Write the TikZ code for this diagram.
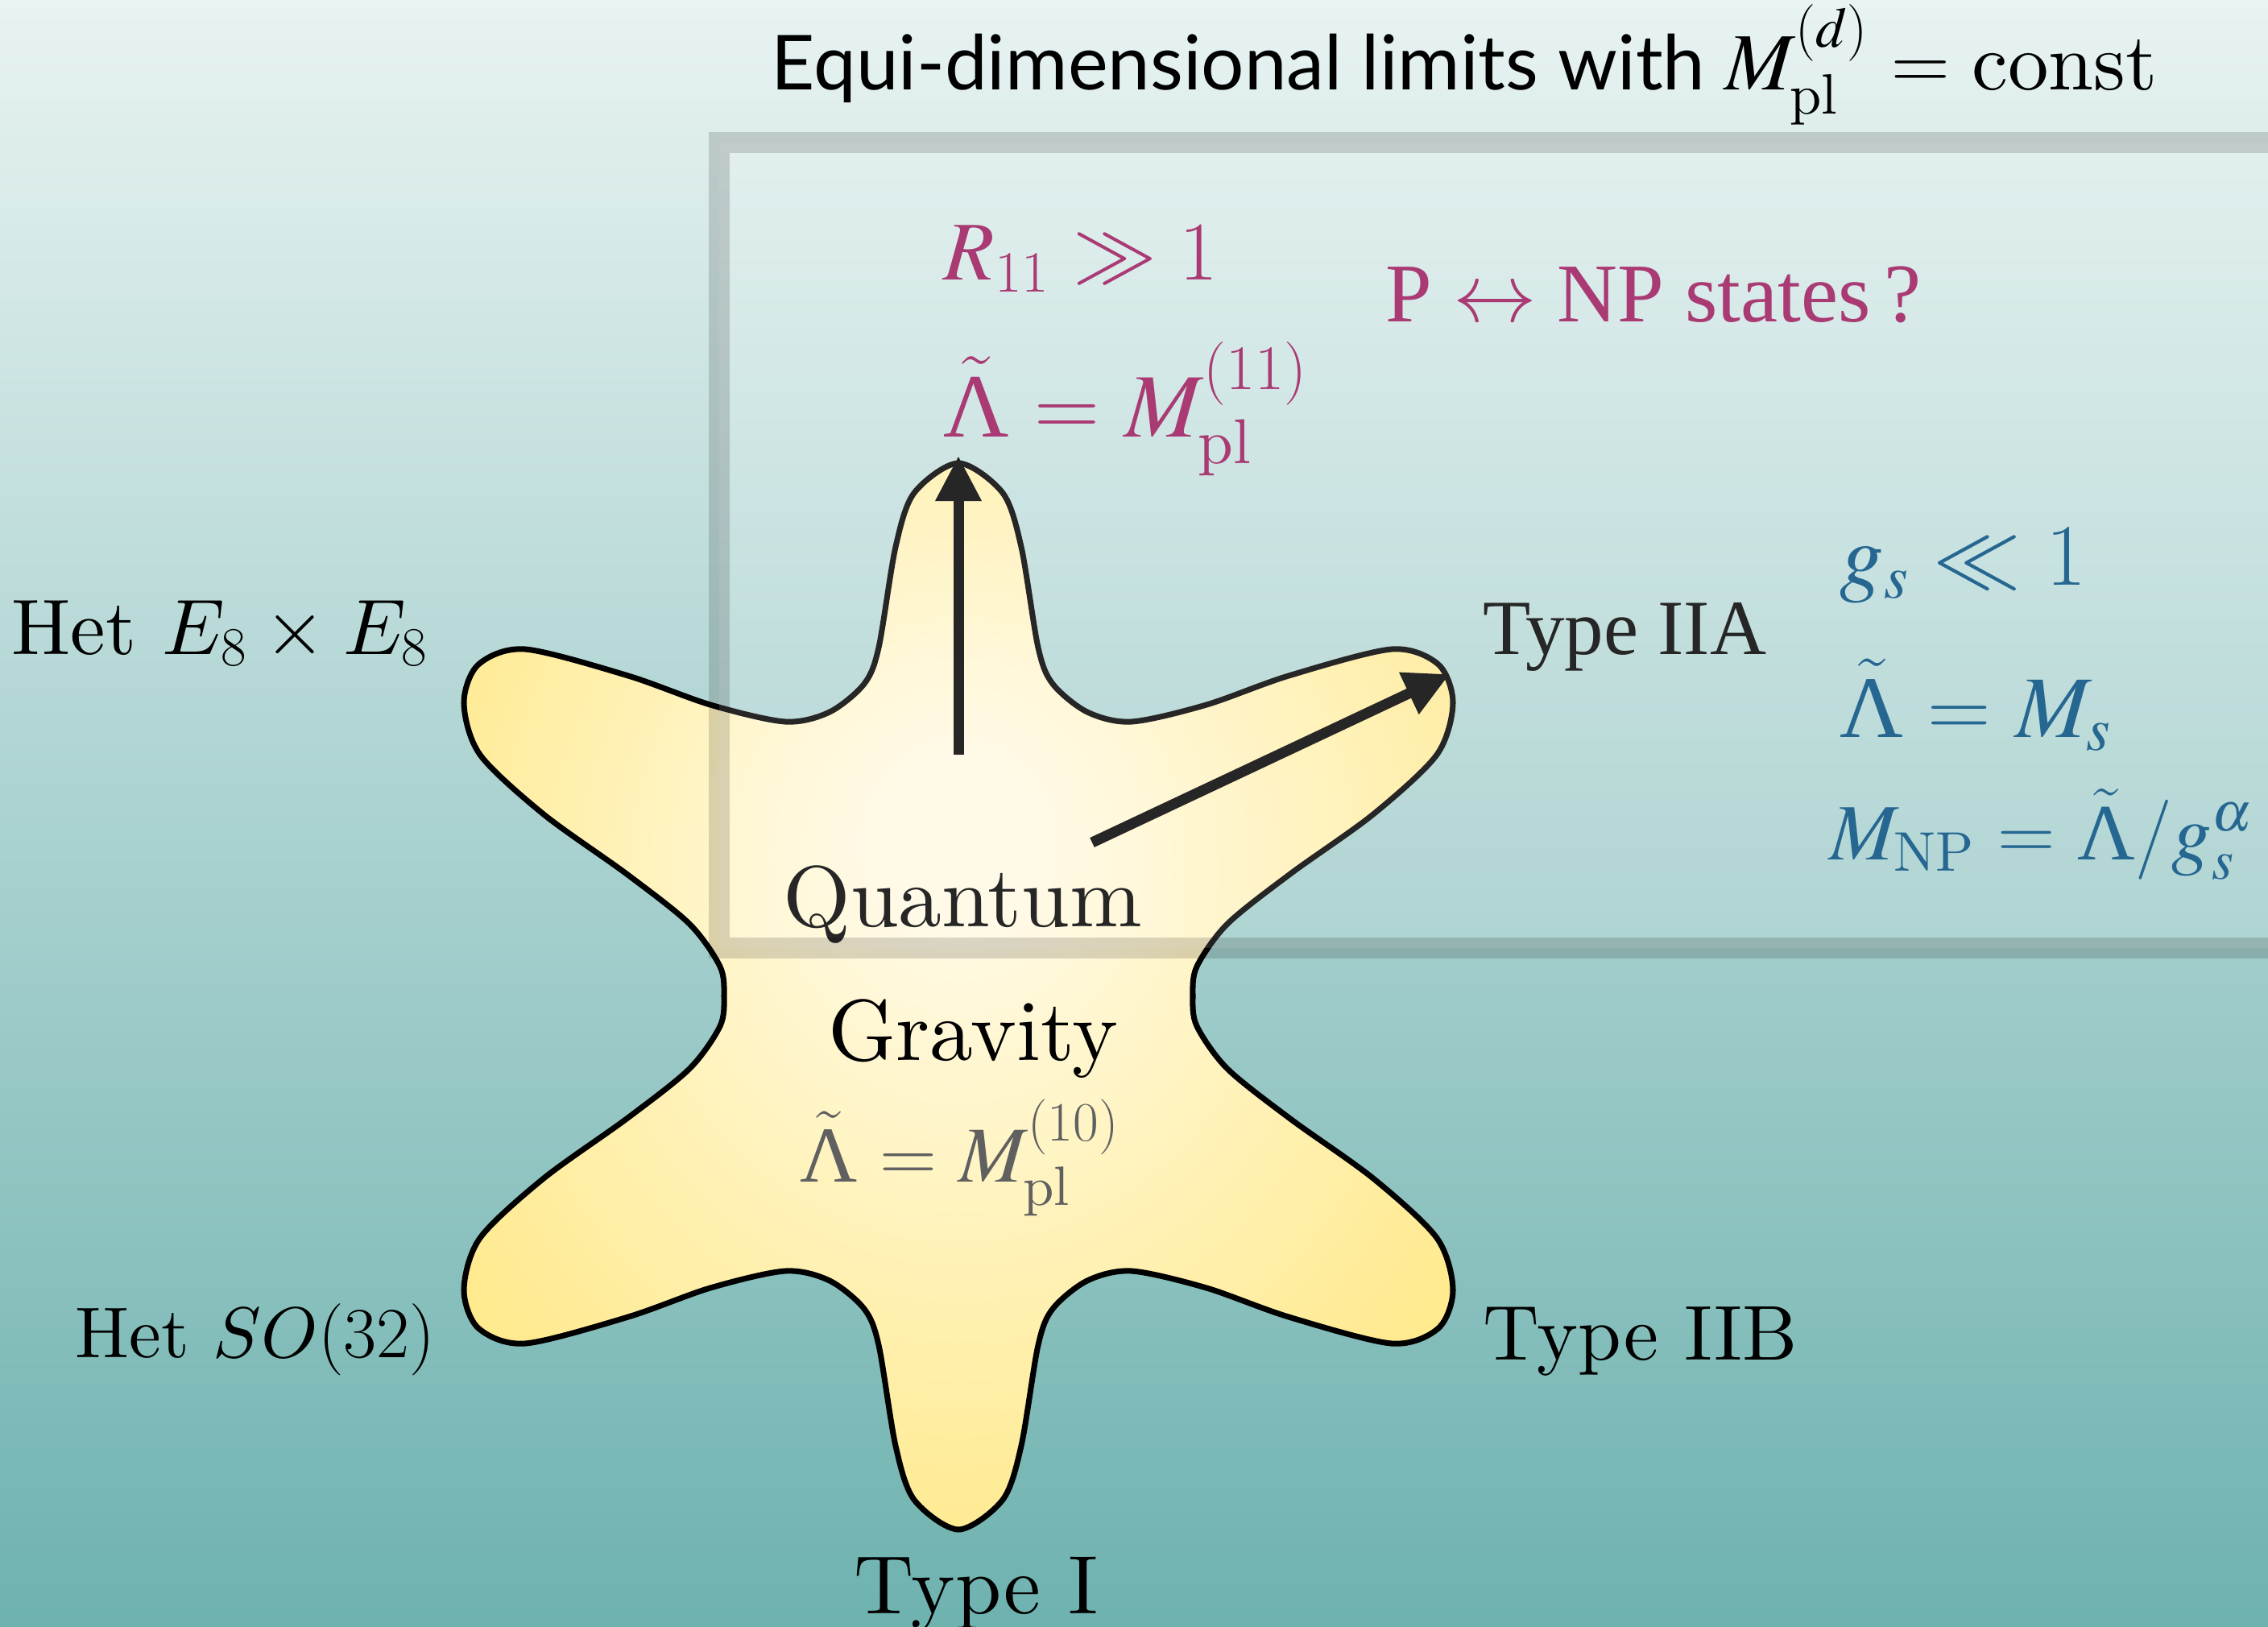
\RequirePackage{fix-cm}
\documentclass[tikz,border=0pt]{standalone}
\usepackage{amsmath}
\usepackage{fontspec}
\setmainfont{lmroman10-regular.otf}[ItalicFont=lmroman10-italic.otf]
\newfontfamily\titlefont{Lato}
\newfontfamily\tmsfont{Liberation Serif}
\usepackage{tikz}
\usetikzlibrary{arrows.meta, positioning}

% math italic from the 10pt design at every size
\DeclareFontShape{OML}{cmm}{m}{it}{<->cmmi10}{}

% Times-like math for the coloured formulas
\DeclareMathVersion{tms}
\SetSymbolFont{operators}{tms}{OT1}{ztmcm}{m}{n}
\SetSymbolFont{letters}{tms}{OML}{ztmcm}{m}{it}
\SetSymbolFont{symbols}{tms}{OMS}{ztmcm}{m}{n}
\SetSymbolFont{largesymbols}{tms}{OMX}{ztmcm}{m}{n}
\SetMathAlphabet{\mathrm}{tms}{OT1}{ptm}{m}{n}
\newcommand{\tlam}{\tilde{\text{\tmsfont Λ}}}

\definecolor{bgtop}{RGB}{232,243,242}
\definecolor{bgbottom}{RGB}{110,178,175}
\definecolor{staryellow}{RGB}{255,230,122}
\definecolor{starlight}{RGB}{255,250,228}
\definecolor{limitpink}{RGB}{170,58,115}
\definecolor{limitblue}{RGB}{38,103,146}
\definecolor{qgray}{RGB}{96,96,96}

\pgfdeclareradialshading{starglow}{\pgfpoint{0bp}{8bp}}{color(0bp)=(starlight); color(4bp)=(starlight); color(36bp)=(staryellow); color(50bp)=(staryellow)}

\begin{document}
\begin{tikzpicture}[
  >={Triangle[length=0.56cm, width=0.54cm]},
  starline/.style={draw=black, line width=2pt, shading=starglow},
  limitarrow/.style={->, line width=0.13cm, black},
  limitbox/.style={draw=black, draw opacity=0.15, line width=0.26cm, fill=white, fill opacity=0.15},
  lbl/.style={inner sep=0pt, font=\fontsize{27.5}{33}\selectfont},
  qglbl/.style={inner sep=0pt, font=\fontsize{30.6}{36}\selectfont},
  tmslbl/.style={inner sep=0pt, font=\fontsize{28}{34}\selectfont\mathversion{tms}},
  pinklbl/.style={inner sep=0pt, anchor=base west, text=limitpink, font=\fontsize{29.5}{35}\selectfont\mathversion{tms}},
  bluelbl/.style={inner sep=0pt, anchor=base west, text=limitblue, font=\fontsize{31}{37}\selectfont\mathversion{tms}}
  ]
  \useasboundingbox (0,0) rectangle (28.16,-20.20);
  \shade[top color=bgtop, bottom color=bgbottom] (0,0) rectangle (28.16,-20.20);

  \coordinate (qg) at (11.90,-12.37);
  \coordinate (mtip) at (11.90,-5.66);
  \coordinate (mfoot) at (11.90,-9.37);
  \coordinate (iiatip) at (18.00,-8.37);
  \coordinate (iiafoot) at (13.56,-10.46);

  % the quantum gravity star
  \begin{scope}[shift={(qg)}]
    \path[starline] plot[smooth cycle] coordinates {
      (0,6.62) (0.55,6.25) (0.78,5.58) (0.99,4.33) (1.17,3.88) (1.6,3.53) (2.15,3.41)
      (3.08,3.62) (4.1,3.98) (5.38,4.31) (5.96,4.12) (6.14,3.64) (5.94,3.0) (5.15,2.26)
      (4.12,1.52) (3.34,0.9) (2.96,0.37) (2.91,0)
      (2.96,-0.37) (3.34,-0.9) (4.12,-1.52) (5.15,-2.26) (5.94,-3.0) (6.14,-3.64)
      (5.96,-4.12) (5.38,-4.31) (4.1,-3.98) (3.08,-3.62) (2.15,-3.41) (1.6,-3.53)
      (1.17,-3.88) (0.99,-4.33) (0.78,-5.58) (0.55,-6.25) (0,-6.62)
      (-0.55,-6.25) (-0.78,-5.58) (-0.99,-4.33) (-1.17,-3.88) (-1.6,-3.53) (-2.15,-3.41)
      (-3.08,-3.62) (-4.1,-3.98) (-5.38,-4.31) (-5.96,-4.12) (-6.14,-3.64) (-5.94,-3.0)
      (-5.15,-2.26) (-4.12,-1.52) (-3.34,-0.9) (-2.96,-0.37) (-2.91,0)
      (-2.96,0.37) (-3.34,0.9) (-4.12,1.52) (-5.15,2.26) (-5.94,3.0) (-6.14,3.64)
      (-5.96,4.12) (-5.38,4.31) (-4.1,3.98) (-3.08,3.62) (-2.15,3.41) (-1.6,3.53)
      (-1.17,3.88) (-0.99,4.33) (-0.78,5.58) (-0.55,6.25)};
  \end{scope}

  \draw[limitarrow] (mfoot) -- (mtip);
  \draw[limitarrow] (iiafoot) -- (iiatip);

  \node[qglbl, anchor=base] (quantum) at (11.95,-11.50) {Quantum};
  \node[qglbl, anchor=base] (gravity) at (12.08,-13.16) {Gravity};
  \node[tmslbl, anchor=base, text=qgray] (lam10) at (11.92,-14.67) {$\tlam = M_{\rm pl}^{(10)}$};

  \node[lbl, anchor=base west, font=\fontsize{27.8}{33}\selectfont] (hete8) at (0.14,-8.12) {Het $E_8\times E_8$};
  \node[lbl, anchor=base west, font=\fontsize{25.4}{30}\selectfont] (hetso) at (0.93,-16.85) {Het $SO(32)$};
  \node[lbl, anchor=base, font=\fontsize{29.3}{35}\selectfont] (typei) at (12.12,-20.03) {Type I};
  \node[lbl, anchor=base west] (typeiib) at (18.41,-16.88) {Type IIB};
  \node[inner sep=0pt, anchor=base west, font=\fontsize{27.6}{33}\selectfont\tmsfont] (typeiia) at (18.41,-8.12) {Type IIA};

  \node[inner sep=0pt, anchor=base west, font=\fontsize{26.8}{33}\selectfont\titlefont] (title) at (9.57,-1.11)
    {Equi-dimensional limits with {\fontsize{28.7}{35}\selectfont\mathversion{tms}$M_{\rm pl}^{(d)} = {\rm const}$}};

  % equi-dimensional limits
  \draw[limitbox] (8.93,-1.77) rectangle (29.5,-11.77);

  \node[pinklbl] (r11) at (11.71,-3.47) {$R_{11} \gg 1$};
  \node[pinklbl, font=\fontsize{32}{38}\selectfont\mathversion{tms}] (lam11) at (11.71,-5.42) {$\tlam = M_{\rm pl}^{(11)}$};
  \node[pinklbl] (pnp) at (17.20,-3.99) {\tmsfont P $\leftrightarrow$ NP states\,?};

  \node[bluelbl] (gs) at (22.84,-7.26) {$g_s \ll 1$};
  \node[bluelbl] (lams) at (22.84,-9.15) {$\tlam = M_s$};
  \node[bluelbl, font=\fontsize{28.2}{34}\selectfont\mathversion{tms}] (mnp) at (22.71,-10.67) {$M_{\rm NP} = \tlam/g_s^\alpha$};
\end{tikzpicture}
\end{document}
